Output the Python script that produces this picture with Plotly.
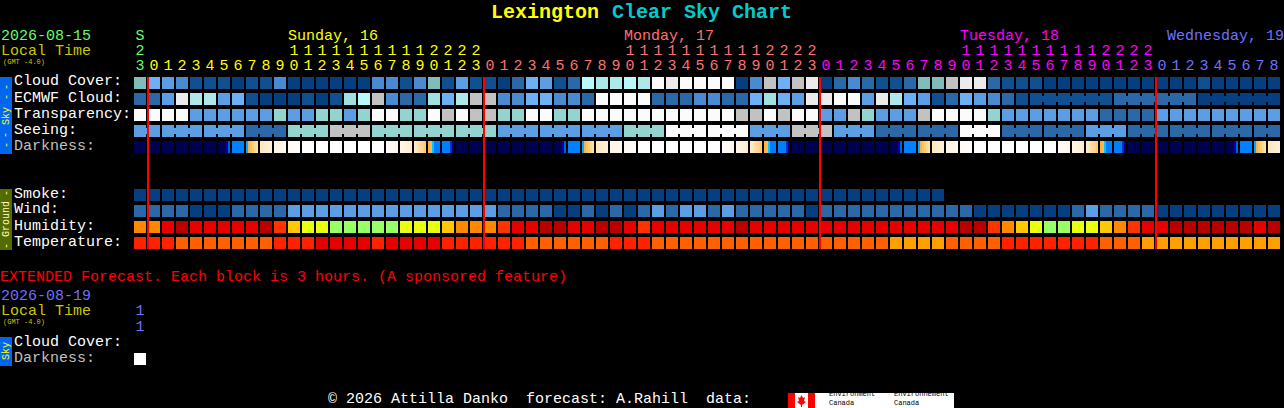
import plotly.graph_objects as go

PAGE_W, PAGE_H = 1284, 408
FONT = "Liberation Mono"

# ---------- colour levels used by the block rows ----------
levels = {
    "D": "#063f80", "d": "#115090", "m": "#2a68a8", "n": "#4a8ad0", "l": "#5c9ee4",
    "L": "#6eb0f6", "t": "#80bcbc", "T": "#94d4d0", "a": "#a0e0e0", "c": "#aee8e8",
    "C": "#b8f8f8", "g": "#c2c2c2", "e": "#ebebeb", "w": "#fbfbfb",
    "O": "#ff8800", "Y": "#ffc800", "V": "#e8ff10", "G": "#99ff66", "R": "#e60000",
    "X": "#b80000", "o": "#ff3300", "r": "#ff2200", "q": "#ff6000", "A": "#ffa000",
}

# ---------- block rows, one code per hour column ----------
cloud_cover = ("tLlndddDdd nDDDDDDnnd ntdlddDmLl dmCccCcwew "
               "wwwDngLgeD mnmddmttge emdddDDDDD DDDDDDdDDDDD")
ecmwf_cloud = ("mmlecclLdD DDdDdaCgnm maLcggnnLL nnmwwwwmmm "
               "nnmmLaLlee wwlecLldmL lnmddddddd mmmmmmDDDDDD")
transparency = ("wwwwllllll TllTTlTwwT TwgwggTTww TTwwwwwwww "
                "wwwggwgwwl lgTlllgwww wTlllllllm mmmlllllllll")
seeing_blocks = list("lllmTgTTTlllTwwlglmmwmmlmmmm")
seeing_block_sizes = [2] + [3] * 26 + [2]
smoke = "D" * 58
wind = ("mmmmDDDmmm mlllllllll llllllmmmm DDmDmDmlml "
        "lmlmmmmmDm mmmmmmmmmm DDDDDDDmlm mmmDDDDDDDDD")
humidity = ("OORXRRRRRX oYVVGGGGGV VVYOOOoRRX XRRXXRoRRR "
            "RRRXRRRRRR RRRRRRRRRX XoOYVGGVVY OoRRXXXXXXRX")
temperature = ("rrrqqqqqqq rrrRRRRrRR RRrrrrrrqq qqqqrrrqqq "
               "qqqqqqqqqq qqqqAAAAqq qqrrrrrrrq qqAAAAAAAAAA")
ecmwf_joined_runs = [(64, 69), (70, 75), (76, 81)]

# ---------- darkness: each hour block shaded in six steps ----------
dark_tones = {
    "N": ["#000050"] * 6,
    "a": ["#000050", "#000050", "#000050", "#000050", "#0000a0", "#0060e0"],
    "b": ["#0080ff"] * 6,
    "c": ["#00a8ff", "#ffb040", "#ffc460", "#ffcf80", "#ffd890", "#ffe0a0"],
    "d": ["#ffe6bc", "#ffe8c4", "#ffeacb", "#ffecd0", "#ffeed6", "#fff0dc"],
    "e": ["#fff3e2", "#fff4e6", "#fff5e9", "#fff6ec", "#fff7ee", "#fff8f0"],
    "f": ["#fffaf4", "#fffaf5", "#fffbf7", "#fffbf8", "#fffcf9", "#fffcfb"],
    "W": ["#ffffff"] * 6,
    "g": ["#fffcf9", "#fffbf7", "#fffaf5", "#fff9f2", "#fff8ef", "#fff6ec"],
    "h": ["#fff6ea", "#fff4e4", "#fff2de", "#fff0d8", "#ffeed2", "#ffeccc"],
    "i": ["#ffeac4", "#ffe6ba", "#ffe0aa", "#ffd89a", "#ffd08a", "#ffc87a"],
    "j": ["#ffb040", "#ffb848", "#00c8ff", "#0080ff", "#0080ff", "#0080ff"],
    "k": ["#0080ff", "#0080ff", "#0080ff", "#0080ff", "#0030c0", "#000080"],
}
darkness = "NNNNNNabcdefWWWWWWghijkNNNNNNNabcdefWWWWWWghijkNNNNNNNabcdefWWWWWWghijkNNNNNNNabcd"
ext_darkness = [1]

# ---------- column headings ----------
n_cols = 82
first_hour = 23
hours = [(first_hour + i) % 24 for i in range(n_cols)]
day_of_col = [0] + [1] * 24 + [2] * 24 + [3] * 24 + [4] * 9
day_colors = ["#66ff66", "#ffff00", "#ff7070", "#ff00ff", "#7070ff"]
midnights = [0, 24, 48, 72]

# rows: block row index -> 16 px pitch
ROW = {"cloud": 0, "ecmwf": 1, "transp": 2, "seeing": 3, "dark": 4,
       "smoke": 7, "wind": 8, "humidity": 9, "temp": 10}


def row_of(py):  # page pixel y -> row units
    return (py - 83) / 16


def clean(s):
    return s.replace(" ", "")


seeing = []
for code, size in zip(seeing_blocks, seeing_block_sizes):
    seeing += [code] * size

rows = [
    clean(cloud_cover), clean(ecmwf_cloud), clean(transparency), "".join(seeing), "",
    "", "", smoke, clean(wind), clean(humidity), clean(temperature),
]
codes = list(levels)
z = []
for r in rows:
    line = [codes.index(ch) for ch in r]
    z.append(line + [None] * (n_cols - len(line)))

n = len(codes) - 1
scale = [[i / n, levels[c]] for i, c in enumerate(codes)]

fig = go.Figure()
fig.add_trace(go.Heatmap(z=z, x0=0, dx=1, y0=0, dy=1, zmin=0, zmax=n, colorscale=scale,
                         xgap=2, ygap=4, showscale=False, hoverinfo="skip"))

# darkness row with its sub-block shading
tone_list = []
for cell in darkness:
    for t in dark_tones[cell]:
        if t not in tone_list:
            tone_list.append(t)
zd = []
for cell in darkness:
    zd += [tone_list.index(t) for t in dark_tones[cell]] + [None]
nt = len(tone_list) - 1
tone_scale = [[i / nt, t] for i, t in enumerate(tone_list)]
fig.add_trace(go.Heatmap(z=[zd], x0=-5 / 14, dx=1 / 7, y0=ROW["dark"], dy=1, zmin=0, zmax=nt,
                         colorscale=tone_scale, ygap=4, showscale=False, hoverinfo="skip"))

# extended darkness block
fig.add_trace(go.Heatmap(z=[ext_darkness], x0=0, dx=1, y0=row_of(359), dy=1, zmin=0, zmax=1,
                         colorscale=[[0, "#ffffff"], [1, "#ffffff"]], xgap=2, ygap=4,
                         showscale=False, hoverinfo="skip"))

# joined runs drawn as bridges between neighbouring blocks
bridges = {}
col = 0
for size in seeing_block_sizes:
    for i in range(col, col + size - 1):
        bridges.setdefault(seeing[i], ([], []))
        bridges[seeing[i]][0].extend([i + 3 / 7, i + 4 / 7, None])
        bridges[seeing[i]][1].extend([ROW["seeing"]] * 2 + [None])
    col += size
ecm = clean(ecmwf_cloud)
for a, b in ecmwf_joined_runs:
    for i in range(a, b):
        bridges.setdefault(ecm[i], ([], []))
        bridges[ecm[i]][0].extend([i + 3 / 7, i + 4 / 7, None])
        bridges[ecm[i]][1].extend([ROW["ecmwf"]] * 2 + [None])
for code, (xs, ys) in bridges.items():
    fig.add_trace(go.Scatter(x=xs, y=ys, mode="lines", line=dict(color=levels[code], width=6),
                             hoverinfo="skip", showlegend=False))

# midnight lines
mx, my = [], []
for m in midnights:
    mx += [m + 4 / 7, m + 4 / 7, None]
    my += [row_of(77), row_of(249), None]
fig.add_trace(go.Scatter(x=mx, y=my, mode="lines", line=dict(color="#ff0000", width=2),
                         hoverinfo="skip", showlegend=False))

# hour digits
ones_txt = [str(h % 10) for h in hours]
tens_x = [i for i, h in enumerate(hours) if h >= 10]
tens_txt = [str(hours[i] // 10) for i in tens_x]
fig.add_trace(go.Scatter(x=list(range(n_cols)), y=[row_of(66)] * n_cols, mode="text", text=ones_txt,
                         textposition="middle center",
                         textfont=dict(family=FONT, size=15, color=[day_colors[d] for d in day_of_col]),
                         hoverinfo="skip", showlegend=False))
fig.add_trace(go.Scatter(x=tens_x, y=[row_of(51)] * len(tens_x), mode="text", text=tens_txt,
                         textposition="middle center",
                         textfont=dict(family=FONT, size=15, color=[day_colors[day_of_col[i]] for i in tens_x]),
                         hoverinfo="skip", showlegend=False))
fig.add_trace(go.Scatter(x=[0, 0, 0], y=[row_of(36), row_of(311), row_of(327)], mode="text",
                         text=["S", "1", "1"], textposition="middle center",
                         textfont=dict(family=FONT, size=15, color=["#66ff66", "#7070ff", "#7070ff"]),
                         hoverinfo="skip", showlegend=False))

# ---------- page furniture, placed in pixels ----------
def px(x):
    return x / PAGE_W


def py(y):
    return 1 - y / PAGE_H


def label(text, x, y, color="#ffffff", size=15, bold=False, anchor="left", angle=0):
    fig.add_annotation(text=f"<b>{text}</b>" if bold else text, x=px(x), y=py(y), xref="paper", yref="paper",
                       xanchor=anchor, yanchor="middle", showarrow=False, borderpad=0, borderwidth=0,
                       align="left", textangle=angle, font=dict(family=FONT, size=size, color=color))


def box(x0, y0, x1, y1, color):
    fig.add_shape(type="rect", xref="paper", yref="paper", x0=px(x0), x1=px(x1), y0=py(y0), y1=py(y1),
                  fillcolor=color, line_width=0, layer="below")


label("Lexington", 491, 12, "#ffff00", 20, True)
label("Clear Sky Chart", 612, 12, "#00cccc", 20, True)

label("2026-08-15", 1, 36, "#66ff66")
label("Local Time", 1, 51, "#c8c800")
label("(GMT -4.0)", 3, 62, "#c8c800", 7)
day_heads = [("Sunday, 16", 11, 1), ("Monday, 17", 35, 2), ("Tuesday, 18", 59, 3)]
for text, c, d in day_heads:
    label(text, 134 + 14 * c, 36, day_colors[d])
label("Wednesday, 19", 1167, 36, day_colors[4])

for text, y, color in [
    ("Cloud Cover:", 82, "#ffffff"), ("ECMWF Cloud:", 98, "#ffffff"), ("Transparency:", 114, "#ffffff"),
    ("Seeing:", 130, "#ffffff"), ("Darkness:", 146, "#c0c0c0"),
    ("Smoke:", 194, "#ffffff"), ("Wind:", 210, "#ffffff"), ("Humidity:", 226, "#ffffff"),
    ("Temperature:", 242, "#ffffff"),
    ("Cloud Cover:", 342, "#ffffff"), ("Darkness:", 358, "#c0c0c0"),
]:
    label(text, 14, y, color)

label("EXTENDED Forecast. Each block is 3 hours. (A sponsored feature)", 0, 277, "#ff0000")
label("2026-08-19", 1, 296, "#7070ff")
label("Local Time", 1, 311, "#c8c800")
label("(GMT -4.0)", 3, 322, "#c8c800", 7)

# side bars
box(0, 77, 12, 154, "#0066ee")
box(0, 189, 12, 250, "#556b00")
box(0, 337, 12, 366, "#0066ee")
label("Sky", 6, 116, "#ffff00", 10, anchor="center", angle=-90)
for dash_y in [87, 97, 135, 145]:
    label("-", 6, dash_y, "#ffff00", 10, anchor="center", angle=-90)
label("Ground", 6, 219, "#ffffc0", 10, anchor="center", angle=-90)
label("-", 6, 193, "#ffffc0", 10, anchor="center", angle=-90)
label("-", 6, 246, "#ffffc0", 10, anchor="center", angle=-90)
label("Sky", 6, 351, "#ffff00", 10, anchor="center", angle=-90)

# footer and credit logo
label("\u00a9 2026 Attilla Danko\u00a0\u00a0forecast: A.Rahill\u00a0\u00a0data:", 328, 399.5)
box(788, 393, 954, 408, "#ffffff")
box(788, 393, 795, 408, "#ff0000")
box(808, 393, 815, 408, "#ff0000")
leaf = [(801.5, 395), (803, 398), (805, 397), (804, 401), (806, 402), (802, 405), (802, 407),
        (801, 407), (801, 405), (797, 402), (799, 401), (798, 397), (800, 398)]
path = "M " + " L ".join(f"{px(x):.5f},{py(y):.5f}" for x, y in leaf) + " Z"
fig.add_shape(type="path", xref="paper", yref="paper", path=path, fillcolor="#ff0000", line_width=0, layer="below")
label("Environment<br>Canada", 829, 398.5, "#000000", 7)
label("Environnement<br>Canada", 894, 398.5, "#000000", 7)

fig.update_layout(
    width=PAGE_W, height=PAGE_H, margin=dict(l=0, r=0, t=0, b=0, pad=0),
    paper_bgcolor="#000000", plot_bgcolor="#000000", showlegend=False, hovermode=False,
    xaxis=dict(visible=False, range=[-10, (PAGE_W - 140) / 14], fixedrange=True),
    yaxis=dict(visible=False, range=[(PAGE_H - 83) / 16, -83 / 16], fixedrange=True),
)
fig.write_html("out.html", config={"displayModeBar": False},
               post_script="document.body.style.margin='0';document.body.style.background='#000';"
                           "document.documentElement.style.overflow='hidden';")
